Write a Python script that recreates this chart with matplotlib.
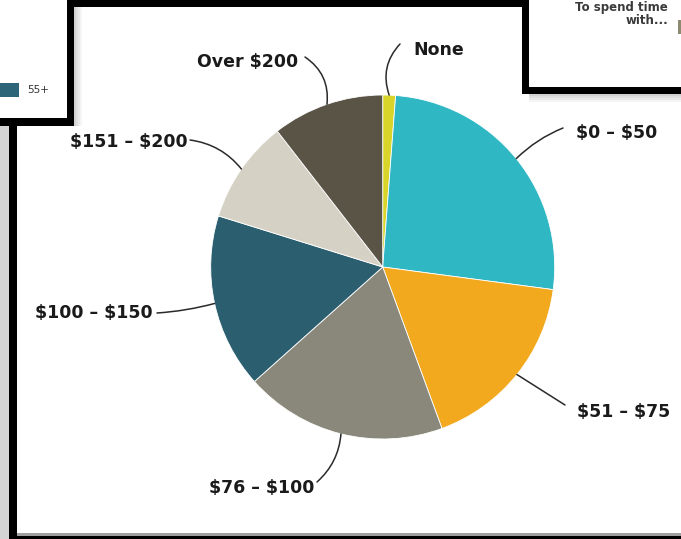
import numpy as np
import matplotlib
matplotlib.use("Agg")
import matplotlib.pyplot as plt
from matplotlib.patches import Rectangle

plt.rcParams["text.parse_math"] = False

# spending categories, clockwise from the top
labels = ["None", "$0 \u2013 $50", "$51 \u2013 $75", "$76 \u2013 $100",
          "$100 \u2013 $150", "$151 \u2013 $200", "Over $200"]
shares = [1.2, 25.9, 17.3, 19.0, 16.4, 9.7, 10.5]
colors = ["#d8d42a", "#2fb7c4", "#f2a91e", "#8a887a",
          "#2b5f70", "#d5d1c5", "#5a5447"]

W, H = 681, 539

fig = plt.figure(figsize=(W / 100, H / 100), dpi=100)
fig.patch.set_facecolor("white")


def block(x0, y0, x1, y1, color, alpha=1.0):
    # rectangle given in image pixels (origin top left)
    fig.add_artist(Rectangle((x0 / W, 1 - y1 / H), (x1 - x0) / W, (y1 - y0) / H,
                             transform=fig.transFigure, facecolor=color,
                             edgecolor="none", alpha=alpha))


# --- frames of the screenshot collage ---
block(0, 126, 9, 539, "#d4d4d4")
block(9, 126, 17, 536, "black")
block(17, 533, 681, 536, "#a0a0a0")
block(9, 536, 681, 539, "black")
block(67, 0, 529, 7, "black")

# top left box (legend fragment) + shadow
for i, a in enumerate([0.35, 0.25, 0.16, 0.08]):
    block(74 + 2 * i, 7, 76 + 2 * i, 126, "#808080", a)
block(67, 0, 74, 126, "black")
block(0, 118, 74, 126, "black")
block(0, 83, 19, 97, "#2b6577")
fig.text(27 / W, 1 - 90 / H, "55+", fontsize=7.5, color="#333333",
         ha="left", va="center")

# top right box (caption fragment) + shadow
block(529, 0, 681, 87, "white")
for i, a in enumerate([0.35, 0.25, 0.16, 0.08]):
    block(529, 94 + 2 * i, 681, 96 + 2 * i, "#808080", a)
block(522, 0, 529, 94, "black")
block(522, 87, 681, 94, "black")
fig.text(668 / W, 1 - 7 / H, "To spend time", fontsize=8.5, fontweight="bold",
         color="#3a3a3a", ha="right", va="center")
fig.text(668 / W, 1 - 20 / H, "with...", fontsize=8.5, fontweight="bold",
         color="#3a3a3a", ha="right", va="center")
block(678, 20, 681, 34, "#8c8a70")

# --- pie ---
cx, cy, r = 382.7, 267, 172
ax = fig.add_axes([(cx - r) / W, 1 - (cy + r) / H, 2 * r / W, 2 * r / H])
wedges, _ = ax.pie(shares, colors=colors, startangle=90, counterclock=False,
                   wedgeprops=dict(edgecolor="white", linewidth=0.6))
ax.set_xlim(-1, 1)
ax.set_ylim(-1, 1)
ax.set_aspect("equal")
ax.axis("off")

# leader end points and label anchors (image pixels)
lead_end = [(400, 44), (563, 128), (565, 405), (317, 482),
            (157, 313), (190, 140), (305, 57)]
text_pos = [(413, 50, "left"), (576, 133, "left"), (577, 412, "left"),
            (314, 488, "right"), (153, 313, "right"), (188, 142, "right"),
            (298, 62, "right")]
rads = [0.3, 0.1, 0.0, 0.2, 0.05, -0.2, -0.3]

for w, (ex, ey), (tx, ty, ha), rad, lab in zip(wedges, lead_end, text_pos, rads, labels):
    mid = np.deg2rad((w.theta1 + w.theta2) / 2)
    ax.annotate("", xy=(np.cos(mid) * 1.0, np.sin(mid) * 1.0), xycoords="data",
                xytext=(ex, H - ey), textcoords="figure pixels",
                arrowprops=dict(arrowstyle="-", color="#2a2a2a", lw=1.1,
                                shrinkA=0, shrinkB=0,
                                connectionstyle="arc3,rad=%s" % rad))
    fig.text(tx / W, 1 - ty / H, lab, fontsize=12.5, fontweight="bold",
             color="#1a1a1a", ha=ha, va="center")

fig.savefig("out.png", dpi=100)
